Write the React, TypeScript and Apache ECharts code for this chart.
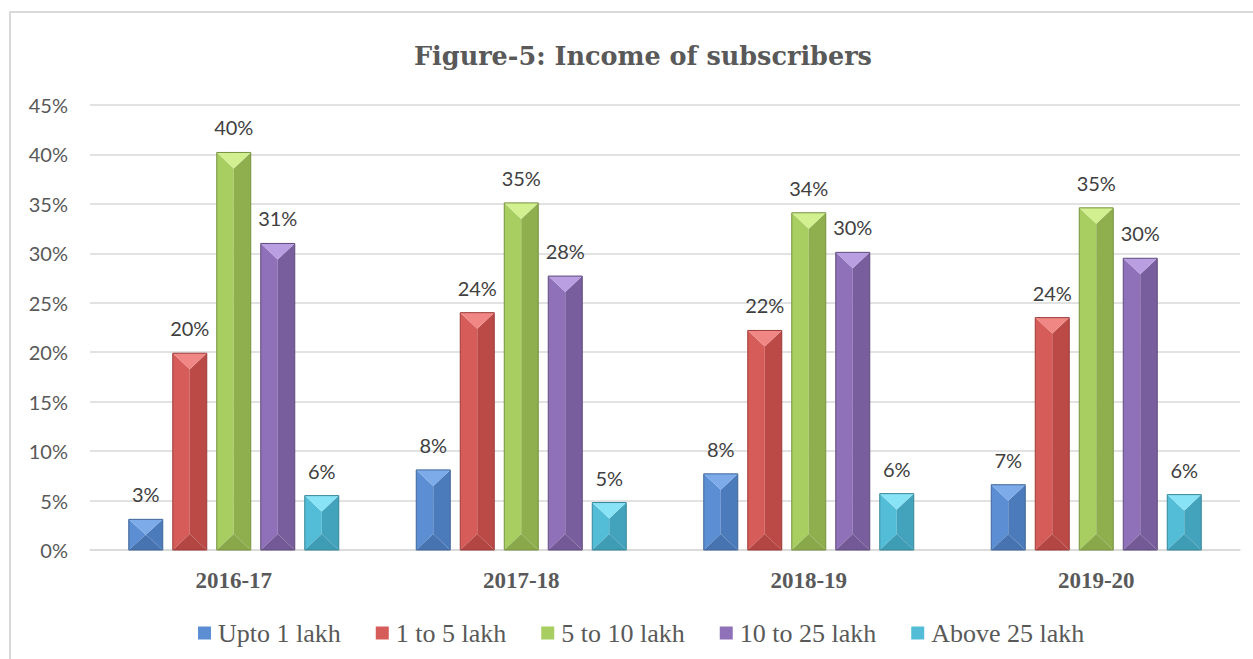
import React, { useEffect, useRef } from "react";
import * as echarts from "echarts";

const categories = ["2016-17", "2017-18", "2018-19", "2019-20"];
const seriesNames = ["Upto 1 lakh", "1 to 5 lakh", "5 to 10 lakh", "10 to 25 lakh", "Above 25 lakh"];
const upto1 = [3.1, 8.1, 7.7, 6.6];
const oneTo5 = [19.9, 24.0, 22.2, 23.5];
const fiveTo10 = [40.2, 35.1, 34.1, 34.6];
const tenTo25 = [31.0, 27.7, 30.1, 29.5];
const above25 = [5.5, 4.8, 5.7, 5.6];
const seriesValues = [upto1, oneTo5, fiveTo10, tenTo25, above25];
const yTicks = [0, 5, 10, 15, 20, 25, 30, 35, 40, 45];

const faceTop = ["#7dabea", "#f08784", "#d2f08f", "#b99fe2", "#88e3f6"];
const faceLeft = ["#5b8ed2", "#d65c59", "#a8cd61", "#8e71b8", "#53bdd7"];
const faceRight = ["#4c7bbb", "#bb4a47", "#8faf4f", "#795e9d", "#43a3bc"];
const faceBottom = ["#4774b0", "#b34543", "#88a84a", "#735a96", "#3e9cb4"];
const edge = ["#3f6699", "#9c3b39", "#76923f", "#5f4a7d", "#35869a"];

export default function App() {
  const ref = useRef<HTMLDivElement>(null);
  useEffect(() => {
    if (!ref.current) return;
    const chart = echarts.init(ref.current, null, { renderer: "svg" });
    const BAR_FRAC = 34 / 287.5;
    const PITCH_FRAC = 44 / 287.5;
    const renderItem = (params: any, api: any) => {
      const s = params.seriesIndex;
      const cat = api.value(0);
      const val = api.value(1);
      const base = api.coord([cat, 0]);
      const topPt = api.coord([cat, val]);
      const band = api.size([1, 0])[0];
      const w = band * BAR_FRAC;
      const cx = base[0] + (s - 2) * band * PITCH_FRAC;
      const x0 = cx - w / 2;
      const x1 = cx + w / 2;
      const yT = topPt[1];
      const yB = base[1];
      const h = Math.min(w * 0.47, (yB - yT) / 2);
      return {
        type: "group",
        children: [
          { type: "polygon", shape: { points: [[x0, yT], [cx, yT + h], [cx, yB - h], [x0, yB]] }, style: { fill: faceLeft[s] } },
          { type: "polygon", shape: { points: [[x1, yT], [cx, yT + h], [cx, yB - h], [x1, yB]] }, style: { fill: faceRight[s] } },
          { type: "polygon", shape: { points: [[x0, yT], [x1, yT], [cx, yT + h]] }, style: { fill: faceTop[s] } },
          { type: "polygon", shape: { points: [[x0, yB], [x1, yB], [cx, yB - h]] }, style: { fill: faceBottom[s] } },
          { type: "rect", shape: { x: x0, y: yT, width: w, height: yB - yT }, style: { fill: "none", stroke: edge[s], lineWidth: 1 } },
          {
            type: "text",
            x: cx,
            y: yT - 25,
            style: {
              text: Math.round(val) + "%",
              fill: "#404040",
              font: "20px Lato",
              align: "center",
              verticalAlign: "middle",
            },
          },
        ],
      };
    };
    chart.setOption({
      animation: false,
      title: {
        text: "Figure-5: Income of subscribers",
        left: 638,
        top: 38,
        textAlign: "center",
        textStyle: { fontFamily: "DejaVu Serif", fontWeight: "bold", fontSize: 25.5, color: "#595959" },
      },
      graphic: [
        { type: "rect", shape: { x: 10, y: 12, width: 1300, height: 700 }, style: { fill: "none", stroke: "#d9d9d9", lineWidth: 2 }, silent: true },
      ],
      legend: {
        left: 193,
        top: 615,
        itemWidth: 13,
        itemHeight: 13,
        itemGap: 35,
        icon: "rect",
        data: seriesNames,
        textStyle: { fontFamily: "Liberation Serif", fontSize: 26, color: "#595959", padding: [2, 0, 0, 2] },
      },
      grid: { left: 90, right: 13, top: 105, bottom: 109 },
      xAxis: {
        type: "category",
        data: categories,
        axisLine: { lineStyle: { color: "#d9d9d9", width: 1.5 } },
        axisTick: { show: false },
        axisLabel: { margin: 19, fontFamily: "Liberation Serif", fontWeight: "bold", fontSize: 23, color: "#595959" },
      },
      yAxis: {
        type: "value",
        min: yTicks[0],
        max: yTicks[yTicks.length - 1],
        interval: yTicks[1] - yTicks[0],
        axisLine: { show: false },
        axisTick: { show: false },
        splitLine: { lineStyle: { color: "#d9d9d9", width: 1.5 } },
        axisLabel: { formatter: "{value}%", margin: 22, fontFamily: "Lato", fontSize: 20, color: "#595959" },
      },
      series: seriesValues.map((vals, i) => ({
        type: "custom",
        name: seriesNames[i],
        renderItem,
        itemStyle: { color: faceLeft[i] },
        encode: { x: 0, y: 1 },
        data: vals.map((v, c) => [c, v]),
      })),
    });
    return () => chart.dispose();
  }, []);
  return (
    <div
      ref={ref}
      style={{ position: "fixed", left: 0, top: 0, width: 1253, height: 659, background: "#ffffff" }}
    />
  );
}
